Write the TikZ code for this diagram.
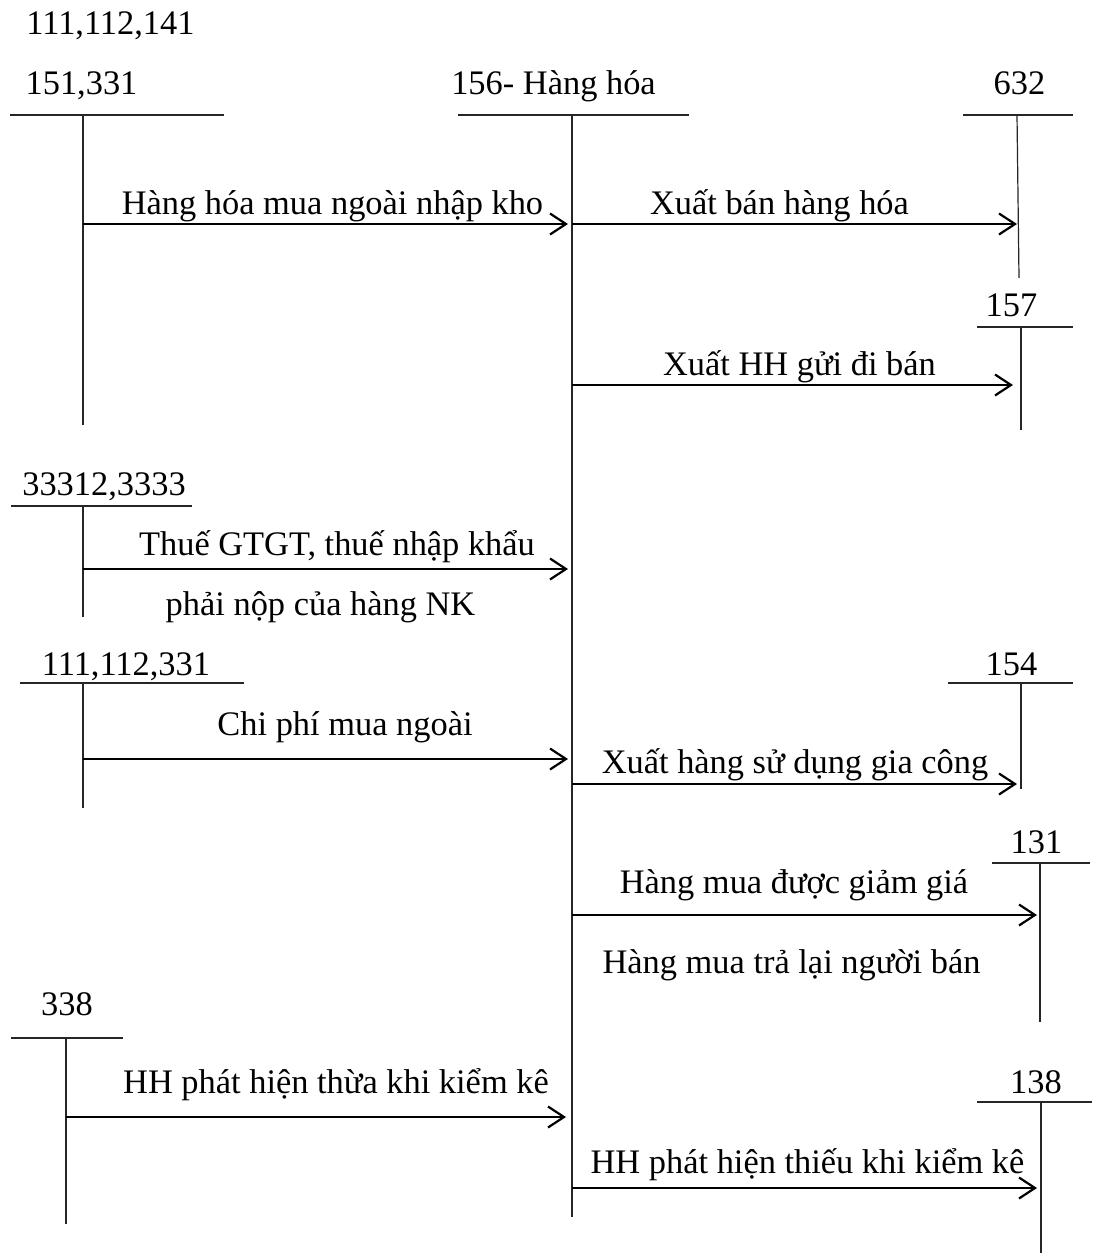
\documentclass[tikz,border=0pt]{standalone}
\usepackage{fontspec}
\setmainfont{Liberation Serif}
\usetikzlibrary{arrows.meta}
\begin{document}
\begin{tikzpicture}[x=1pt,y=-1pt,
  lbl/.style={anchor=base,inner sep=0pt,font=\fontsize{34.4}{40}\selectfont},
  acc/.style={line width=1.2pt,black!85},
  flow/.style={line width=2.4pt,-{Straight Barb[length=16pt,width=21pt,line width=2.2pt]}}]
\useasboundingbox (0,0) rectangle (1092,1255);
\fill[white] (0,0) rectangle (1092,1255);

% account titles
\node[lbl] (t111141) at (110.5,35) {111,112,141};
\node[lbl] (t151) at (81.5,94) {151,331};
\node[lbl] (t156) at (553.5,94) {156- Hàng hóa};
\node[lbl] (t632) at (1019.5,94) {632};
\node[lbl] (t157) at (1011.5,316) {157};
\node[lbl] (t33312) at (104,495) {33312,3333};
\node[lbl] (t111331) at (126,675) {111,112,331};
\node[lbl] (t154) at (1011.5,675) {154};
\node[lbl] (t131) at (1036.5,853) {131};
\node[lbl] (t338) at (67,1015) {338};
\node[lbl] (t138) at (1036,1093) {138};

% T-account lines
\coordinate (h151a) at (10,115);  \coordinate (h151b) at (224,115);
\coordinate (v151a) at (83,115);  \coordinate (v151b) at (83,425);
\coordinate (h156a) at (458,115); \coordinate (h156b) at (689,115);
\coordinate (v156a) at (572,115); \coordinate (v156b) at (572,1217);
\coordinate (h632a) at (963,115); \coordinate (h632b) at (1073,115);
\coordinate (v632a) at (1017,115); \coordinate (v632b) at (1019,278);
\coordinate (h157a) at (977,327); \coordinate (h157b) at (1073,327);
\coordinate (v157a) at (1021,327); \coordinate (v157b) at (1021,430);
\coordinate (h333a) at (11,506);  \coordinate (h333b) at (192,506);
\coordinate (v333a) at (83,506);  \coordinate (v333b) at (83,617);
\coordinate (h331a) at (20,683);  \coordinate (h331b) at (244,683);
\coordinate (v331a) at (83,683);  \coordinate (v331b) at (83,808);
\coordinate (h154a) at (948,683); \coordinate (h154b) at (1073,683);
\coordinate (v154a) at (1021,683); \coordinate (v154b) at (1021,789);
\coordinate (h131a) at (992,863); \coordinate (h131b) at (1090,863);
\coordinate (v131a) at (1040,863); \coordinate (v131b) at (1040,1022);
\coordinate (h338a) at (11,1038); \coordinate (h338b) at (123,1038);
\coordinate (v338a) at (66,1038); \coordinate (v338b) at (66,1224);
\coordinate (h138a) at (977,1102); \coordinate (h138b) at (1092,1102);
\coordinate (v138a) at (1041,1102); \coordinate (v138b) at (1041,1253);

\foreach \n in {151,156,632,157,333,331,154,131,338,138}{
  \draw[acc] (h\n a) -- (h\n b);
  \draw[acc] (v\n a) -- (v\n b);
}

% arrow end points
\coordinate (a1s) at (83,224);   \coordinate (a1e) at (568,224);
\coordinate (a2s) at (572,224);  \coordinate (a2e) at (1017,224);
\coordinate (a3s) at (572,385);  \coordinate (a3e) at (1013,385);
\coordinate (a4s) at (83,569);   \coordinate (a4e) at (568,569);
\coordinate (a5s) at (83,759);   \coordinate (a5e) at (568,759);
\coordinate (a6s) at (572,784);  \coordinate (a6e) at (1017,784);
\coordinate (a7s) at (572,915);  \coordinate (a7e) at (1037,915);
\coordinate (a8s) at (66,1117);  \coordinate (a8e) at (566,1117);
\coordinate (a9s) at (572,1188); \coordinate (a9e) at (1037,1188);

\foreach \n in {1,...,9}{ \draw[flow] (a\n s) -- (a\n e); }

% labels
\node[lbl] (l1) at (332.5,214) {Hàng hóa mua ngoài nhập kho};
\node[lbl] (l2) at (779.5,214) {Xuất bán hàng hóa};
\node[lbl] (l3) at (799.5,375) {Xuất HH gửi đi bán};
\node[lbl] (l4) at (337,555) {Thuế GTGT, thuế nhập khẩu};
\node[lbl] (l5) at (320.5,615) {phải nộp của hàng NK};
\node[lbl] (l6) at (345,735) {Chi phí mua ngoài};
\node[lbl] (l7) at (795,773) {Xuất hàng sử dụng gia công};
\node[lbl] (l8) at (794,893) {Hàng mua được giảm giá};
\node[lbl] (l9) at (791.5,973) {Hàng mua trả lại người bán};
\node[lbl] (l10) at (336,1093) {HH phát hiện thừa khi kiểm kê};
\node[lbl] (l11) at (807.5,1173) {HH phát hiện thiếu khi kiểm kê};
\end{tikzpicture}
\end{document}
